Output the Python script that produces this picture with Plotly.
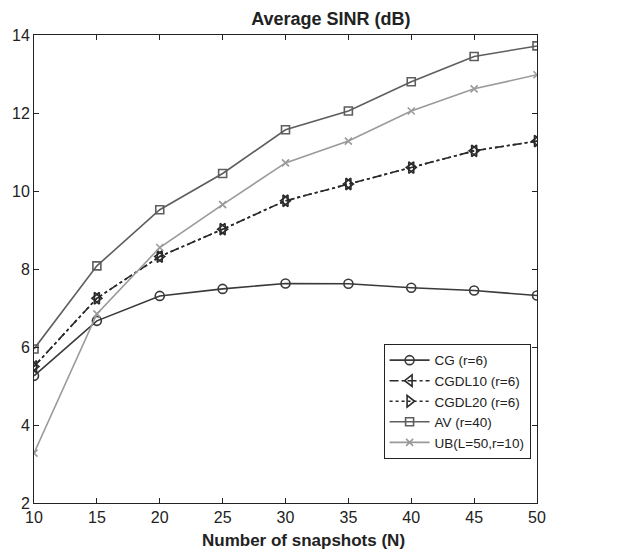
import plotly.graph_objects as go

# Number of snapshots
snapshots = [10, 15, 20, 25, 30, 35, 40, 45, 50]

# Average SINR (dB) per method
sinr_cg = [5.26, 6.67, 7.31, 7.49, 7.63, 7.62, 7.52, 7.45, 7.32]
sinr_cgdl10 = [5.50, 7.25, 8.32, 9.02, 9.75, 10.18, 10.60, 11.03, 11.28]
sinr_cgdl20 = [5.50, 7.25, 8.32, 9.02, 9.75, 10.18, 10.60, 11.03, 11.28]
sinr_av = [5.95, 8.08, 9.52, 10.45, 11.57, 12.05, 12.80, 13.45, 13.72]
sinr_ub = [3.28, 6.85, 8.55, 9.65, 10.72, 11.28, 12.05, 12.62, 12.98]

series = [
    ("CG (r=6)", sinr_cg, "#3a3a3a", "solid", "circle-open", 9),
    ("CGDL10 (r=6)", sinr_cgdl10, "#2a2a2a", "dashdot", "triangle-left-open", 10),
    ("CGDL20 (r=6)", sinr_cgdl20, "#2a2a2a", "dot", "triangle-right-open", 10),
    ("AV (r=40)", sinr_av, "#5e5e5e", "solid", "square-open", 8),
    ("UB(L=50,r=10)", sinr_ub, "#9a9a9a", "solid", "x-thin-open", 7),
]

fig = go.Figure()
for name, vals, color, dash, symbol, size in series:
    fig.add_trace(go.Scatter(
        x=snapshots, y=vals, name=name, mode="lines+markers",
        line=dict(color=color, width=1.6, dash=dash),
        marker=dict(symbol=symbol, size=size, color=color,
                    line=dict(color=color, width=1.6)),
    ))

font_family = "Liberation Sans, Arial, sans-serif"
fig.update_layout(
    width=635, height=552,
    margin=dict(l=32, r=98, t=35, b=49),
    paper_bgcolor="white", plot_bgcolor="white",
    font=dict(family=font_family, size=16, color="#222"),
    title=dict(text="<b>Average SINR (dB)</b>", x=0.521, xanchor="center",
               xref="container", y=0.967, yanchor="middle",
               font=dict(size=18)),
    showlegend=True,
    legend=dict(x=0.695, y=0.340, xanchor="left", yanchor="top",
                bordercolor="#222", borderwidth=1, bgcolor="white",
                font=dict(size=13.5), tracegroupgap=0, itemwidth=40),
    xaxis=dict(range=[10, 50], tickvals=[10, 15, 20, 25, 30, 35, 40, 45, 50],
               ticks="inside", ticklen=5, tickcolor="#222",
               showline=True, linecolor="#222", linewidth=1, mirror="ticks",
               showgrid=False, zeroline=False),
    yaxis=dict(range=[2, 14], tickvals=[2, 4, 6, 8, 10, 12, 14],
               ticks="inside", ticklen=5, tickcolor="#222",
               showline=True, linecolor="#222", linewidth=1, mirror="ticks",
               showgrid=False, zeroline=False),
    annotations=[dict(text="<b>Number of snapshots (N)</b>", xref="paper",
                      yref="paper", x=0.535, y=-0.081, xanchor="center",
                      yanchor="middle", showarrow=False,
                      font=dict(size=17, color="#222"))],
)

fig.write_html("out.html")
